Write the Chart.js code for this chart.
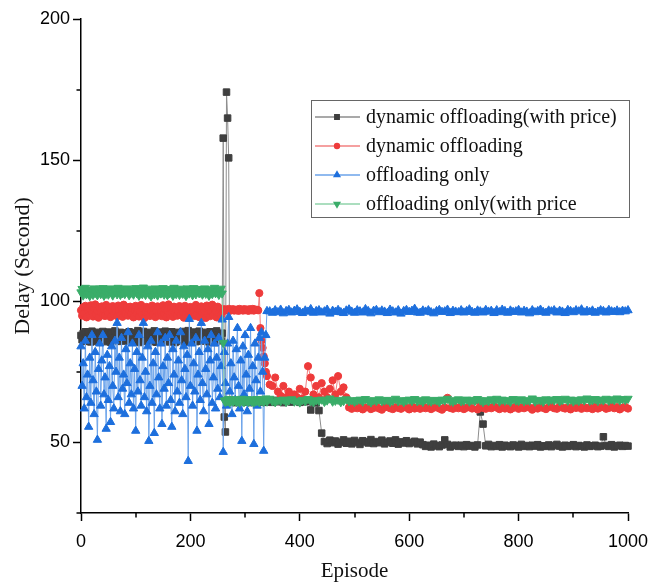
<!DOCTYPE html>
<html>
<head>
<meta charset="utf-8">
<script src="https://cdn.jsdelivr.net/npm/chart.js@4.4.1/dist/chart.umd.min.js"></script>
<style>
  body { margin: 0; background: #fff; }
  #wrap { width: 649px; height: 586px; }
</style>
</head>
<body>
<div id="wrap"><canvas id="delayChart" width="649" height="586"></canvas></div>
<script>
// episode numbers: every 2 episodes up to 340 (noisy part), then every 5
const episodes = [
  0, 2, 4, 6, 8, 10, 12, 14, 16, 18, 20, 22, 24, 26, 28, 30, 32, 34, 36, 38,
  40, 42, 44, 46, 48, 50, 52, 54, 56, 58, 60, 62, 64, 66, 68, 70, 72, 74, 76, 78,
  80, 82, 84, 86, 88, 90, 92, 94, 96, 98, 100, 102, 104, 106, 108, 110, 112, 114, 116, 118,
  120, 122, 124, 126, 128, 130, 132, 134, 136, 138, 140, 142, 144, 146, 148, 150, 152, 154, 156, 158,
  160, 162, 164, 166, 168, 170, 172, 174, 176, 178, 180, 182, 184, 186, 188, 190, 192, 194, 196, 198,
  200, 202, 204, 206, 208, 210, 212, 214, 216, 218, 220, 222, 224, 226, 228, 230, 232, 234, 236, 238,
  240, 242, 244, 246, 248, 250, 252, 254, 256, 258, 260, 262, 264, 266, 268, 270, 272, 274, 276, 278,
  280, 282, 284, 286, 288, 290, 292, 294, 296, 298, 300, 302, 304, 306, 308, 310, 312, 314, 316, 318,
  320, 322, 324, 326, 328, 330, 332, 334, 336, 338, 340,
  345, 350, 355, 360, 365, 370, 375, 380, 385, 390, 395,
  400, 405, 410, 415, 420, 425, 430, 435, 440, 445, 450, 455, 460, 465, 470, 475, 480, 485, 490, 495,
  500, 505, 510, 515, 520, 525, 530, 535, 540, 545, 550, 555, 560, 565, 570, 575, 580, 585, 590, 595,
  600, 605, 610, 615, 620, 625, 630, 635, 640, 645, 650, 655, 660, 665, 670, 675, 680, 685, 690, 695,
  700, 705, 710, 715, 720, 725, 730, 735, 740, 745, 750, 755, 760, 765, 770, 775, 780, 785, 790, 795,
  800, 805, 810, 815, 820, 825, 830, 835, 840, 845, 850, 855, 860, 865, 870, 875, 880, 885, 890, 895,
  900, 905, 910, 915, 920, 925, 930, 935, 940, 945, 950, 955, 960, 965, 970, 975, 980, 985, 990, 995,
  1000
];

// dynamic offloading (with price)
const dynPrice = [
  87.9, 86.4, 88.6, 85.8, 89.2, 87.1, 86.0, 88.9, 87.5, 85.6,
  89.4, 86.8, 88.1, 87.3, 85.9, 89.0, 86.5, 88.4, 87.7, 86.2,
  89.3, 85.7, 88.0, 87.2, 86.6, 89.1, 87.8, 85.5, 88.7, 86.9,
  87.4, 89.5, 86.1, 88.3, 85.8, 87.6, 89.0, 86.4, 88.5, 87.0,
  85.9, 88.8, 87.3, 86.7, 89.2, 86.0, 88.2, 87.5, 85.6, 88.9,
  87.1, 86.3, 89.6, 85.4, 88.0, 87.7, 86.5, 89.3, 85.8, 88.6,
  87.2, 86.0, 89.0, 87.8, 85.7, 88.4, 86.9, 89.5, 87.4, 85.5,
  88.2, 86.6, 89.1, 87.0, 85.9, 88.7, 86.2, 89.4, 87.6, 86.4,
  88.9, 85.6, 87.3, 89.2, 86.8, 88.1, 85.4, 87.9, 89.0, 86.1,
  88.5, 87.2, 85.8, 89.3, 86.7, 88.0, 87.5, 85.5, 89.6, 86.3,
  88.3, 87.0, 86.0, 89.1, 87.7, 85.7, 88.8, 86.5, 89.4, 87.3,
  85.9, 88.6, 86.9, 89.0, 87.4, 86.2, 88.4, 85.6, 89.2, 87.1,
  86.6, 88.9, 87.8, 85.4, 89.5, 86.8, 88.1, 87.2, 86.0, 88.7,
  157.8, 59.0, 53.7, 174.1, 164.9, 150.8,
  64.6, 64.2, 64.9, 64.4, 64.7, 64.1, 64.8, 64.5, 64.3, 64.9,
  64.6, 64.2, 64.7, 64.4, 64.8, 64.3, 64.6, 64.9, 64.5, 64.1,
  64.7, 64.4, 64.8, 64.2, 64.6, 64.5, 64.3, 64.7, 64.4, 64.9,
  64.2, 64.6, 64.8, 64.3, 64.5,
  64.6, 64.2, 64.9, 64.4, 64.7, 64.1, 64.8, 64.5, 64.3, 64.9, 64.6, 64.2, 64.7, 64.4, 64.8,
  61.5, 64.3, 64.0, 61.3, 53.3,
  50.3, 49.6, 50.8, 49.9, 50.5, 49.4, 50.1, 50.9, 49.7, 50.4,
  49.5, 50.7, 50.0, 49.3, 50.6, 50.2, 49.8, 51.0, 49.6, 50.3,
  49.9, 50.8, 49.5, 50.1, 50.5, 49.7, 50.9, 49.4, 50.2, 49.8,
  50.6, 49.6, 50.0, 50.4, 49.5, 50.1,
  49.2, 48.6, 49.0, 48.4, 49.4, 48.8, 48.5, 49.1, 50.9, 49.3,
  48.4, 48.9, 49.0, 48.6, 49.0, 48.5, 49.2, 48.7, 48.9, 48.4,
  49.1, 60.8, 56.5, 48.8, 49.3, 48.5, 48.9, 48.6, 49.2, 48.4,
  49.0, 48.7, 48.5, 49.1, 48.8, 48.4, 49.3, 48.6, 48.9, 48.5,
  49.0, 48.7, 49.2, 48.4, 48.8, 48.6, 49.1, 48.5, 48.9, 49.3,
  48.7, 48.4, 49.0, 48.6, 48.8, 49.2, 48.5, 48.9, 48.7, 48.4,
  49.1, 48.6, 48.8, 49.0, 48.5, 48.7, 52.0, 48.9, 48.6, 49.2,
  48.4, 48.8, 49.0, 48.6, 48.9, 48.7
];

// dynamic offloading
const dynamic = [
  96.8, 94.9, 97.9, 95.6, 98.4, 94.3, 96.9, 97.7, 95.2, 98.6,
  96.1, 94.6, 97.5, 98.9, 95.4, 96.7, 94.2, 97.9, 96.3, 98.2,
  95.0, 97.2, 94.8, 98.7, 96.5, 95.7, 97.8, 94.4, 96.9, 98.3,
  95.3, 97.4, 96.0, 94.7, 98.5, 96.6, 95.1, 97.7, 94.5, 98.8,
  96.2, 95.5, 97.9, 94.9, 96.8, 98.1, 95.6, 97.3, 94.3, 96.9,
  98.4, 95.8, 97.0, 94.6, 96.4, 98.7, 95.2, 97.6, 94.1, 96.3,
  98.0, 95.9, 97.4, 94.8, 96.7, 98.5, 95.4, 97.1, 94.4, 96.6,
  98.2, 95.0, 97.8, 96.1, 94.7, 98.6, 95.7, 97.2, 94.3, 96.8,
  98.9, 95.3, 97.5, 96.0, 94.5, 98.1, 95.8, 97.0, 94.9, 96.5,
  98.3, 95.1, 97.7, 96.2, 94.2, 98.4, 95.6, 97.3, 94.6, 96.9,
  98.0, 95.4, 97.6, 96.3, 94.8, 98.7, 95.2, 97.1, 94.4, 96.7,
  98.2, 95.9, 97.4, 96.0, 94.1, 98.5, 95.5, 97.8, 94.7, 96.4,
  98.8, 95.0, 97.2, 96.6, 94.3, 98.1, 95.7, 97.5, 94.9, 96.2,
  96.9, 97.2, 96.7, 97.0, 96.8, 97.3, 96.6, 97.1, 96.9, 97.2,
  96.7, 97.0, 96.8, 97.1, 96.6, 97.3, 96.9, 97.0, 96.7, 97.2,
  96.8, 97.1, 96.9, 96.6, 97.2, 97.0, 96.8, 97.3, 96.7, 97.1,
  96.9, 97.0, 96.8,
  102.9, 90.5, 86.0, 83.5, 80.5, 78.0, 75.0, 73.5,
  70.5, 70.0, 73.0, 68.0, 66.5, 70.0, 66.0, 68.0, 65.5, 67.0,
  66.0, 69.0, 65.5, 68.0, 77.0, 73.0, 67.0, 70.0, 66.0, 71.0,
  68.0, 66.0, 69.0, 72.0, 67.0, 73.5, 68.0, 69.5, 66.0,
  62.4, 61.9, 62.6, 62.1, 62.8, 61.7, 62.3, 62.5, 61.8, 62.2,
  62.7, 62.0, 61.6, 62.4, 62.9, 62.1, 61.8, 62.5, 62.2, 61.9,
  62.6, 62.3, 61.7, 62.8, 62.0, 62.4, 61.9, 62.7, 62.1, 62.5,
  61.8, 62.3, 62.6, 62.0, 61.6, 62.4, 65.8, 62.2, 61.9, 62.5,
  62.1, 62.7, 61.8, 62.3, 62.6, 62.0, 64.8, 61.7, 62.9, 62.2,
  61.9, 62.5, 62.1, 62.8, 62.3, 61.8, 62.6, 62.0, 62.4, 61.7,
  62.2, 62.7, 61.9, 62.5, 62.1, 62.8, 62.3, 61.6, 62.4, 62.0,
  62.6, 62.2, 61.8, 62.5, 62.9, 62.1, 61.9, 62.7, 62.3, 62.0,
  62.4, 61.7, 62.6, 62.2, 62.8, 61.9, 62.5, 62.1, 62.3, 61.8,
  62.7, 62.0, 62.4, 62.6, 61.9, 62.2, 62.8, 62.1, 62.5, 61.7,
  62.3, 62.6, 62.0
];

// offloading only
const offOnly = [
  84, 70, 78, 62, 86, 66, 74, 55.5, 80, 64, 88, 72, 60, 82, 68, 50.9, 76, 85, 63, 79,
  88, 67, 73, 54.8, 81, 65, 77, 57.2, 84, 70, 62, 86, 75, 92.3, 66, 80, 61, 87, 69, 74,
  60, 83, 71, 89, 64, 78, 67, 85, 62, 76, 54.1, 82, 68, 88, 72, 63, 80, 92.3, 66, 75,
  61, 84, 50.5, 70, 86, 64, 78, 53.3, 82, 67, 89, 73, 62, 85, 56.5, 77, 69, 87, 63, 80,
  71, 88, 65, 55.5, 83, 74, 61, 86, 68, 79, 64, 89, 72, 60, 84, 76, 66, 81, 43.4, 93.7,
  70, 85, 63, 78, 68, 87, 54.1, 74, 82, 65, 92.3, 71, 61, 86, 76, 67, 83, 56.5, 79, 88,
  64, 73, 85, 62, 80, 69, 87, 66, 77, 93.5, 46.6, 82, 71, 63, 85, 94.4, 68, 78, 60, 86,
  73, 65, 83, 90.5, 70, 62, 79, 50.5, 84, 67, 88, 74, 61, 81, 69, 90.5, 64, 77, 49.4, 85,
  72, 63, 80, 87, 68, 89, 75, 47, 80, 88, 96.5,
  96.4, 95.9, 96.8, 96.1, 97.0, 95.7, 96.5, 96.9, 96.0, 96.6,
  97.1, 96.2, 95.8, 96.7, 96.3, 97.2, 95.9, 96.5, 96.8, 96.0,
  96.4, 97.0, 95.6, 96.6, 96.2, 96.9, 96.1, 95.8, 96.7, 97.1,
  96.3, 95.9, 96.8, 96.4, 96.0, 97.2, 96.5, 95.7, 96.6, 96.9,
  96.1, 96.7, 96.3, 95.8, 97.0, 96.4, 96.0, 96.8, 95.6, 96.5,
  96.9, 96.2, 96.6, 97.3, 96.0, 95.9, 96.7, 96.3, 96.8, 96.1,
  95.7, 96.5, 96.9, 96.2, 96.4, 97.0, 95.8, 96.6, 96.3, 96.1,
  96.8, 96.0, 96.5, 97.1, 96.2, 95.9, 96.7, 96.4, 96.0, 96.9,
  96.3, 96.6, 95.8, 96.8, 96.1, 97.0, 96.5, 95.9, 96.7, 96.2,
  96.4, 96.9, 96.0, 96.6, 96.3, 95.7, 96.8, 96.1, 96.5, 97.0,
  96.2, 95.9, 96.7, 96.4, 96.8, 96.0, 96.6, 96.3, 95.8, 96.9,
  96.5, 96.1, 96.8, 96.4, 97.1, 96.0, 96.6, 96.2, 96.7, 95.9,
  96.3, 96.8, 96.5, 96.0, 96.9, 96.4, 96.2, 96.7, 96.1, 96.6,
  96.4, 96.8
];

// offloading only (with price)
const offPrice = [
  103.2, 104.4, 102.1, 103.6, 104.8, 102.5, 103.9, 102.8, 101.9, 104.2,
  103.4, 102.3, 104.6, 103.0, 103.8, 102.2, 103.5, 104.5, 102.6, 103.3,
  104.7, 102.0, 103.9, 102.7, 104.3, 102.4, 103.6, 104.6, 103.1, 102.1,
  104.1, 103.2, 103.9, 102.5, 104.8, 103.4, 102.3, 104.0, 102.9, 104.4,
  102.6, 103.3, 104.6, 103.5, 102.2, 104.0, 103.1, 104.3, 102.4, 103.6,
  104.7, 102.9, 103.5, 102.0, 104.2, 103.7, 102.6, 104.9, 103.0, 102.3,
  103.8, 104.5, 102.7, 103.4, 101.8, 104.1, 103.2, 102.5, 104.6, 103.6,
  102.1, 103.9, 104.3, 102.8, 103.1, 104.7, 102.4, 103.5, 104.0, 102.2,
  103.7, 102.9, 104.4, 103.3, 102.0, 104.8, 103.0, 102.6, 104.2, 103.8,
  102.3, 104.5, 103.1, 102.7, 104.1, 103.4, 101.9, 104.6, 103.2, 102.8,
  104.0, 103.6, 102.2, 104.7, 103.3, 102.5, 103.9, 104.4, 102.9, 103.1,
  104.2, 102.4, 103.8, 104.6, 102.7, 103.5, 104.1, 102.0, 103.7, 104.3,
  102.6, 103.2, 104.8, 102.9, 103.4, 104.0, 102.3, 103.6, 104.5, 102.8,
  85.3,
  64.9, 64.3, 65.1, 64.6, 65.4, 64.2, 64.8, 65.2, 64.5, 64.9,
  65.3, 64.4, 64.7, 65.0, 64.1, 64.8, 65.5, 64.6, 64.3, 65.0,
  64.7, 65.2, 64.4, 64.9, 65.3, 64.5, 64.8, 64.2, 65.1, 64.6,
  65.4, 64.7, 64.3, 65.0, 64.8, 65.2, 64.4, 64.9, 65.6, 64.5,
  65.5, 64.6, 64.3, 65.0,
  64.7, 65.2, 64.4, 64.9, 65.3, 64.5, 64.8, 64.2, 65.1, 64.6,
  65.4, 64.7, 64.3, 65.0, 64.8, 65.2, 64.4, 64.9, 65.6, 64.5,
  64.8, 65.1, 64.3, 64.7, 65.3, 64.6, 65.0, 64.4, 64.9, 65.2,
  64.5, 65.4, 64.8, 64.2, 65.0, 64.7, 65.3, 64.6, 64.9, 65.1,
  64.4, 64.8, 65.5, 64.6, 65.0, 64.3, 64.9, 65.2, 64.7, 65.4,
  64.6, 65.0, 64.4, 65.3, 64.8, 64.5, 65.1, 64.9, 64.3, 65.2,
  64.9, 65.5, 64.7, 64.4, 65.0, 65.3, 64.6, 64.8, 65.2, 64.5,
  65.1, 64.7, 65.4, 64.9, 64.3, 65.0, 64.6, 65.3, 64.8, 65.5,
  64.5, 65.2, 64.8, 65.0, 64.4, 65.4, 64.9, 64.7, 65.3, 64.6,
  65.0, 64.8, 65.6, 64.5, 65.1, 64.9, 64.4, 65.3, 64.7, 65.2,
  64.9, 65.4, 64.6, 65.0, 65.5, 64.8, 65.2, 64.5, 65.1, 64.7,
  65.3, 64.9, 65.6, 64.8, 65.0, 65.4, 64.7, 65.2, 64.9, 65.5,
  64.8, 65.3, 65.0, 65.6, 64.9, 65.4, 65.1, 65.5
];

const seriesNames = [
  "dynamic offloading(with price)",
  "dynamic offloading",
  "offloading only",
  "offloading only(with price"
];

const xMajor = [0, 200, 400, 600, 800, 1000];
const xMinor = [100, 300, 500, 700, 900];
const yMajor = [50, 100, 150, 200];
const yMinor = [25, 75, 125, 175];

const toPoints = (vals) => vals.map((v, i) => ({ x: episodes[i], y: v }));

Chart.defaults.font.family = "'Liberation Sans', Arial, sans-serif";

// shorter unlabeled ticks between the labelled ones
const minorTicks = {
  id: "minorTicks",
  afterDraw(chart) {
    const { ctx } = chart;
    const x = chart.scales.x;
    const y = chart.scales.y;
    ctx.save();
    ctx.strokeStyle = "#000";
    ctx.lineWidth = 1.5;
    ctx.beginPath();
    xMinor.forEach((v) => {
      const px = Math.round(x.getPixelForValue(v));
      ctx.moveTo(px, x.top);
      ctx.lineTo(px, x.top + 4.5);
    });
    yMinor.forEach((v) => {
      const py = Math.round(y.getPixelForValue(v));
      ctx.moveTo(y.right, py);
      ctx.lineTo(y.right - 4.5, py);
    });
    ctx.stroke();
    ctx.restore();
  },
};

// boxed legend in the upper right, like the original figure
const boxLegend = {
  id: "boxLegend",
  afterDraw(chart) {
    const { ctx } = chart;
    const left = 311, top = 100, w = 318, h = 117, rowH = 29;
    ctx.save();
    ctx.fillStyle = "#fff";
    ctx.fillRect(left, top, w, h);
    ctx.strokeStyle = "#666";
    ctx.lineWidth = 1;
    ctx.strokeRect(left + 0.5, top + 0.5, w, h);
    ctx.font = "20px 'Liberation Serif', 'Times New Roman', serif";
    ctx.textBaseline = "middle";
    chart.data.datasets.forEach((ds, i) => {
      const cy = top + 17 + i * rowH;
      ctx.strokeStyle = ds.borderColor;
      ctx.lineWidth = 1.3;
      ctx.beginPath();
      ctx.moveTo(left + 4, cy);
      ctx.lineTo(left + 49, cy);
      ctx.stroke();
      ctx.fillStyle = ds.pointBackgroundColor;
      ctx.strokeStyle = ds.pointBorderColor;
      Chart.helpers.drawPoint(ctx, {
        pointStyle: ds.pointStyle,
        rotation: ds.pointRotation || 0,
        radius: ds.pointRadius * 0.7,
        borderWidth: 1,
      }, left + 26, cy);
      ctx.fillStyle = "#111";
      ctx.fillText(ds.label, left + 55, cy + 1);
    });
    ctx.restore();
  },
};

new Chart(document.getElementById("delayChart"), {
  type: "line",
  data: {
    datasets: [
      {
        label: seriesNames[0],
        data: toPoints(dynPrice),
        borderColor: "#8d8d8d",
        borderWidth: 1,
        pointStyle: "rect",
        pointRadius: 4.6,
        pointBackgroundColor: "#3f3f3f",
        pointBorderColor: "#3f3f3f",
        pointBorderWidth: 1,
        order: 4,
      },
      {
        label: seriesNames[1],
        data: toPoints(dynamic),
        borderColor: "#f28080",
        borderWidth: 1,
        pointStyle: "circle",
        pointRadius: 3.6,
        pointBackgroundColor: "#ee3b3b",
        pointBorderColor: "#ee3b3b",
        pointBorderWidth: 1,
        order: 3,
      },
      {
        label: seriesNames[2],
        data: toPoints(offOnly),
        borderColor: "#6ba3ea",
        borderWidth: 1,
        pointStyle: "triangle",
        pointRadius: 4.8,
        pointBackgroundColor: "#1d6fdd",
        pointBorderColor: "#1d6fdd",
        pointBorderWidth: 1,
        order: 2,
      },
      {
        label: seriesNames[3],
        data: toPoints(offPrice),
        borderColor: "#8fd3aa",
        borderWidth: 1,
        pointStyle: "triangle",
        pointRotation: 180,
        pointRadius: 4.8,
        pointBackgroundColor: "#3aad69",
        pointBorderColor: "#3aad69",
        pointBorderWidth: 1,
        order: 1,
      },
    ],
  },
  options: {
    responsive: false,
    animation: false,
    clip: false,
    layout: { padding: { top: 19, right: 21, left: 0, bottom: 0 } },
    plugins: { legend: { display: false }, tooltip: { enabled: false } },
    scales: {
      x: {
        type: "linear",
        min: 0,
        max: 1000,
        afterBuildTicks: (s) => { s.ticks = xMajor.map((v) => ({ value: v })); },
        afterFit: (s) => { s.height = 73; s.paddingLeft = 0; s.paddingRight = 0; },
        ticks: { font: { size: 18 }, color: "#000", padding: 10, maxRotation: 0, callback: (v) => String(v) },
        grid: { drawOnChartArea: false, tickLength: 8, tickColor: "#000", tickWidth: 1.5 },
        border: { color: "#000", width: 1.5 },
        title: {
          display: true,
          text: "Episode",
          color: "#111",
          font: { family: "'Liberation Serif', 'Times New Roman', serif", size: 21 },
          padding: { top: 0, bottom: 2 },
        },
      },
      y: {
        type: "linear",
        min: 25,
        max: 200,
        afterBuildTicks: (s) => { s.ticks = yMajor.map((v) => ({ value: v })); },
        afterFit: (s) => { s.width = 81; },
        ticks: { font: { size: 18 }, color: "#000", padding: 3, callback: (v) => String(v) },
        grid: { drawOnChartArea: false, tickLength: 8, tickColor: "#000", tickWidth: 1.5 },
        border: { color: "#000", width: 1.5 },
        title: {
          display: true,
          text: "Delay (Second)",
          color: "#111",
          font: { family: "'Liberation Serif', 'Times New Roman', serif", size: 22 },
          padding: { top: 10, bottom: 0 },
        },
      },
    },
  },
  plugins: [minorTicks, boxLegend],
});
</script>
</body>
</html>
